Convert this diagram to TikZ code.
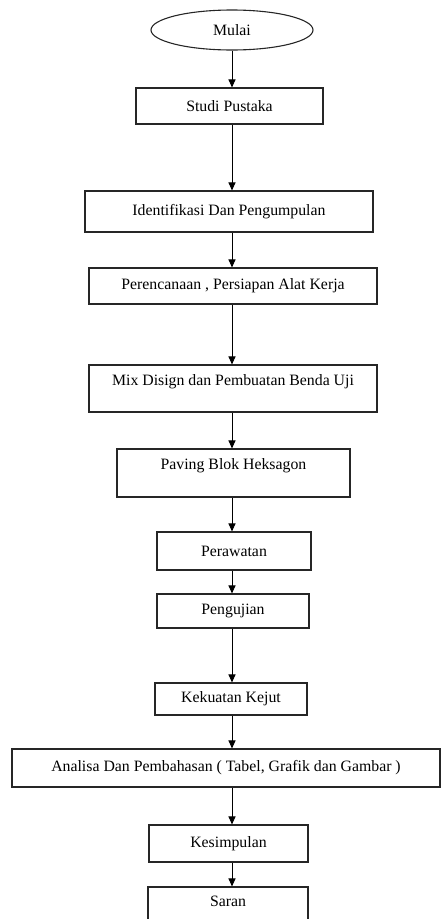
\documentclass[tikz,border=0pt]{standalone}
\usepackage{fontspec}
\setmainfont{Liberation Serif}
\usetikzlibrary{arrows.meta,shapes.geometric}

\begin{document}
\begin{tikzpicture}[x=1pt,y=-1pt,
      kotak/.style={draw=black!85, line width=1.1pt, inner sep=0pt, minimum width=#1},
      atas/.style={text depth=#1},
      panah/.style={-{Triangle[length=8pt,width=7pt]}, line width=1pt},
      every node/.style={align=center, font=\fontsize{15.8}{18}\selectfont}]
    \useasboundingbox (0,0) rectangle (443,919);
    % mulai
    \node[ellipse, draw=black!85, line width=1.1pt, inner sep=0pt,
          minimum width=162pt, minimum height=40pt] (mulai) at (232,30) {Mulai};
    % tahapan
    \node[kotak=187pt, minimum height=36pt] (studi)   at (229.5,106) {Studi Pustaka};
    \node[kotak=288pt, minimum height=41pt] (ident)   at (229,211.5) {Identifikasi Dan Pengumpulan};
    \node[kotak=288pt, minimum height=36pt] (renc)    at (233,286)   {Perencanaan , Persiapan Alat Kerja};
    \node[kotak=288pt, minimum height=47pt, atas=17.5pt] (mix) at (233,388.5) {Mix Disign dan Pembuatan Benda Uji};
    \node[kotak=233pt, minimum height=48pt, atas=18.5pt] (paving) at (233.5,473) {Paving Blok Heksagon};
    \node[kotak=154pt, minimum height=38pt] (rawat)   at (234,551)   {Perawatan};
    \node[kotak=152pt, minimum height=34pt] (uji)     at (233,611)   {Pengujian};
    \node[kotak=152pt, minimum height=32pt] (kejut)   at (231,699)   {Kekuatan Kejut};
    \node[kotak=428pt, minimum height=38pt] (analisa) at (226,768)   {Analisa Dan Pembahasan ( Tabel, Grafik dan Gambar )};
    \node[kotak=159pt, minimum height=37pt] (simpul)  at (228.5,843.5) {Kesimpulan};
    \node[kotak=160pt, minimum height=42pt, atas=12.5pt] (saran) at (228,908) {Saran};
    % panah
    \draw[panah] (mulai) -- (studi.north -| mulai);
    \draw[panah] (studi.south -| mulai) -- (ident.north -| mulai); \draw[panah] (ident.south -| mulai) -- (renc.north -| mulai);
    \draw[panah] (renc.south -| mulai) -- (mix.north -| mulai); \draw[panah] (mix.south -| mulai) -- (paving.north -| mulai);
    \draw[panah] (paving.south -| mulai) -- (rawat.north -| mulai); \draw[panah] (rawat.south -| mulai) -- (uji.north -| mulai);
    \draw[panah] (uji.south -| mulai) -- (kejut.north -| mulai); \draw[panah] (kejut.south -| mulai) -- (analisa.north -| mulai);
    \draw[panah] (analisa.south -| mulai) -- (simpul.north -| mulai); \draw[panah] (simpul.south -| mulai) -- (saran.north -| mulai);
\end{tikzpicture}
\end{document}
